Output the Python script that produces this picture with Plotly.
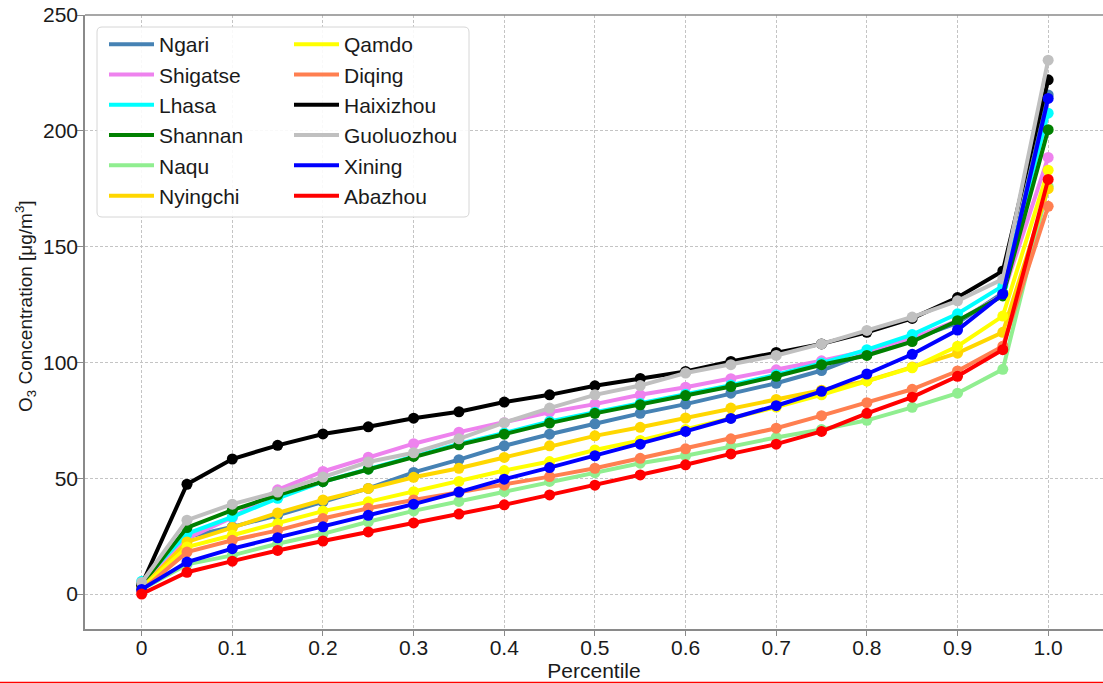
import plotly.graph_objects as go

percentile = [0, 0.05, 0.1, 0.15, 0.2, 0.25, 0.3, 0.35, 0.4, 0.45, 0.5,
              0.55, 0.6, 0.65, 0.7, 0.75, 0.8, 0.85, 0.9, 0.95, 1.0]

ngari = [3, 24.6, 29, 34, 39.8, 45.6, 52.5, 58, 64, 69, 73.5, 78, 82, 86.7, 91, 96.5, 104, 110, 117, 130, 215.5]
shigatse = [3, 24, 33, 45, 52.9, 59.1, 64.9, 69.9, 74, 78.5, 82, 86, 89.3, 93, 96.8, 100.7, 105, 110.5, 118, 129, 188.5]
lhasa = [5.5, 26, 33.3, 41.3, 48.5, 54, 59.7, 64.8, 69.5, 74.5, 78.5, 82.3, 86.3, 90.2, 94.7, 99.7, 105.5, 112, 121, 133, 207.6]
shannan = [4, 28.7, 36.2, 42.7, 48.5, 53.9, 59.4, 64.4, 69, 73.8, 78, 81.7, 85.7, 89.6, 94, 99, 103, 109, 118, 128.7, 200.5]
naqu = [2, 12.8, 16.7, 21.7, 26, 31.2, 35.9, 40, 44.2, 48.6, 52.4, 56.5, 59.7, 63.7, 67.6, 71, 75, 80.6, 86.7, 97, 176]
nyingchi = [2.5, 22.5, 28.7, 35, 40.6, 45.6, 50.4, 54.3, 59, 64, 68.3, 72, 76, 80.3, 84, 88, 92, 98, 104, 113, 175]
qamdo = [2.5, 20.3, 25.4, 30.4, 35.8, 39.8, 44.2, 48.6, 53.3, 57.2, 62.2, 66.3, 71, 76, 80.7, 86, 92, 97.7, 107, 120, 183]
diqing = [1.5, 18.1, 23.2, 27.5, 32.6, 37, 40.6, 44, 47, 50.7, 54.3, 58.6, 62.7, 67, 71.6, 77, 82.6, 88.4, 96.3, 107, 167.4]
haixizhou = [4, 47.4, 58.3, 64.2, 69.1, 72.2, 75.9, 78.7, 82.9, 86, 89.9, 93.1, 96.1, 100.4, 104.3, 108, 113, 119, 128, 139.5, 222]
guoluozhou = [5, 31.9, 38.8, 44, 50.5, 57, 61, 67, 74, 80.3, 86, 90, 95.4, 99, 103, 108, 113.8, 119.6, 126.6, 136, 230.5]
xining = [2, 13.8, 19.6, 24.3, 29, 34, 38.8, 44, 49.6, 54.6, 59.7, 64.7, 70.2, 75.8, 81.3, 87.5, 95, 103.5, 114, 129.5, 214]
abazhou = [0, 9.4, 14.2, 18.8, 22.9, 26.8, 30.7, 34.5, 38.5, 42.8, 47, 51.4, 55.8, 60.5, 64.7, 70.2, 78, 85, 94, 105.5, 179]

names = ["Ngari", "Shigatse", "Lhasa", "Shannan", "Naqu", "Nyingchi",
         "Qamdo", "Diqing", "Haixizhou", "Guoluozhou", "Xining", "Abazhou"]
series = [ngari, shigatse, lhasa, shannan, naqu, nyingchi,
          qamdo, diqing, haixizhou, guoluozhou, xining, abazhou]
colors = ["#4682B4", "#EE82EE", "#00FFFF", "#008000", "#90EE90", "#FFD700",
          "#FFFF00", "#FF7F50", "#000000", "#C0C0C0", "#0000FF", "#FF0000"]

xtick_vals = [0, 0.1, 0.2, 0.3, 0.4, 0.5, 0.6, 0.7, 0.8, 0.9, 1.0]
xtick_text = ["0", "0.1", "0.2", "0.3", "0.4", "0.5", "0.6", "0.7", "0.8", "0.9", "1.0"]
ytick_vals = [0, 50, 100, 150, 200, 250]
y_title = "O<sub>3</sub> Concentration [μg/m<sup>3</sup>]"
x_title = "Percentile"

FONT = "Liberation Sans, Arial, sans-serif"

fig = go.Figure()
for i, (name, vals, col) in enumerate(zip(names, series, colors)):
    leg = "legend" if i < 6 else "legend2"
    fig.add_trace(go.Scatter(x=percentile, y=vals, mode="lines", name=name,
                             line=dict(color=col, width=4), legend=leg))
    fig.add_trace(go.Scatter(x=percentile, y=vals, mode="markers", name=name,
                             marker=dict(color=col, size=11), showlegend=False,
                             hoverinfo="skip"))

# body margin is removed in the page (post_script), so pixels are window pixels
OFF = 0
W, H = 1103, 684
L, R, T, B = 85, 0, 15, 55
pw, ph = W - L - R, H - T - B
def px(xp):
    return (xp - OFF - L) / pw
def py(yp):
    return (H - B - (yp - OFF)) / ph

# legend frame (rounded)
x0, x1, y0, y1 = px(97), px(469), py(217), py(27)
rx, ry = 5 / pw, 5 / ph
path = (f"M{x0+rx},{y1} L{x1-rx},{y1} Q{x1},{y1} {x1},{y1-ry} "
        f"L{x1},{y0+ry} Q{x1},{y0} {x1-rx},{y0} L{x0+rx},{y0} "
        f"Q{x0},{y0} {x0},{y0+ry} L{x0},{y1-ry} Q{x0},{y1} {x0+rx},{y1} Z")

shapes = [
    dict(type="path", xref="paper", yref="paper", path=path,
         line=dict(color="#d6d6d6", width=1), fillcolor="rgba(255,255,255,0.9)",
         layer="above"),
    dict(type="line", xref="paper", yref="paper", x0=0, x1=1, y0=1, y1=1,
         line=dict(color="#8a8a8a", width=1.5)),
    dict(type="line", xref="paper", yref="paper", x0=px(0), x1=1,
         y0=py(682.5), y1=py(682.5), line=dict(color="#ff0000", width=1.5)),
]

legend_common = dict(font=dict(family=FONT, size=21, color="#1a1a1a"),
                     bgcolor="rgba(0,0,0,0)", borderwidth=0, itemwidth=45,
                     xanchor="left", yanchor="top", tracegroupgap=0)

fig.update_layout(
    width=W, height=H,
    margin=dict(l=L, r=R, t=T, b=B, autoexpand=False),
    paper_bgcolor="white", plot_bgcolor="white",
    font=dict(family=FONT, size=21, color="#1a1a1a"),
    showlegend=True,
    legend=dict(x=px(104), y=py(24), **legend_common),
    legend2=dict(x=px(289), y=py(24), **legend_common),
    shapes=shapes,
    annotations=[dict(text=y_title, textangle=-90, xref="paper", yref="paper",
                      x=px(25), y=py(306), xanchor="center", yanchor="middle",
                      showarrow=False, font=dict(family=FONT, size=19, color="#1a1a1a"))],
    xaxis=dict(range=[-0.0625, 1.0605], tickvals=xtick_vals, ticktext=xtick_text,
               automargin=False,
               showgrid=True, gridcolor="#c4c4c4", griddash="3px,2px", gridwidth=1,
               zeroline=False, showline=True, linecolor="#8a8a8a", linewidth=1.5,
               ticks="outside", ticklen=5, tickcolor="#8a8a8a", tickwidth=1,
               ticklabelstandoff=-6,
               tickfont=dict(size=21),
               title=dict(text=x_title, font=dict(size=21), standoff=0)),
    yaxis=dict(range=[-15.1, 250], tickvals=ytick_vals,
               automargin=False,
               showgrid=True, gridcolor="#c4c4c4", griddash="3px,2px", gridwidth=1,
               zeroline=False, showline=True, linecolor="#8a8a8a", linewidth=1.5,
               ticks="outside", ticklen=6, tickcolor="#8a8a8a", tickwidth=1,
               ticklabelstandoff=-5, ticklabeloverflow="allow",
               tickfont=dict(size=21)),
)

fig.write_html("out.html",
               config={"displayModeBar": False},
               post_script="document.body.style.margin='0px';document.body.style.overflow='hidden';")
